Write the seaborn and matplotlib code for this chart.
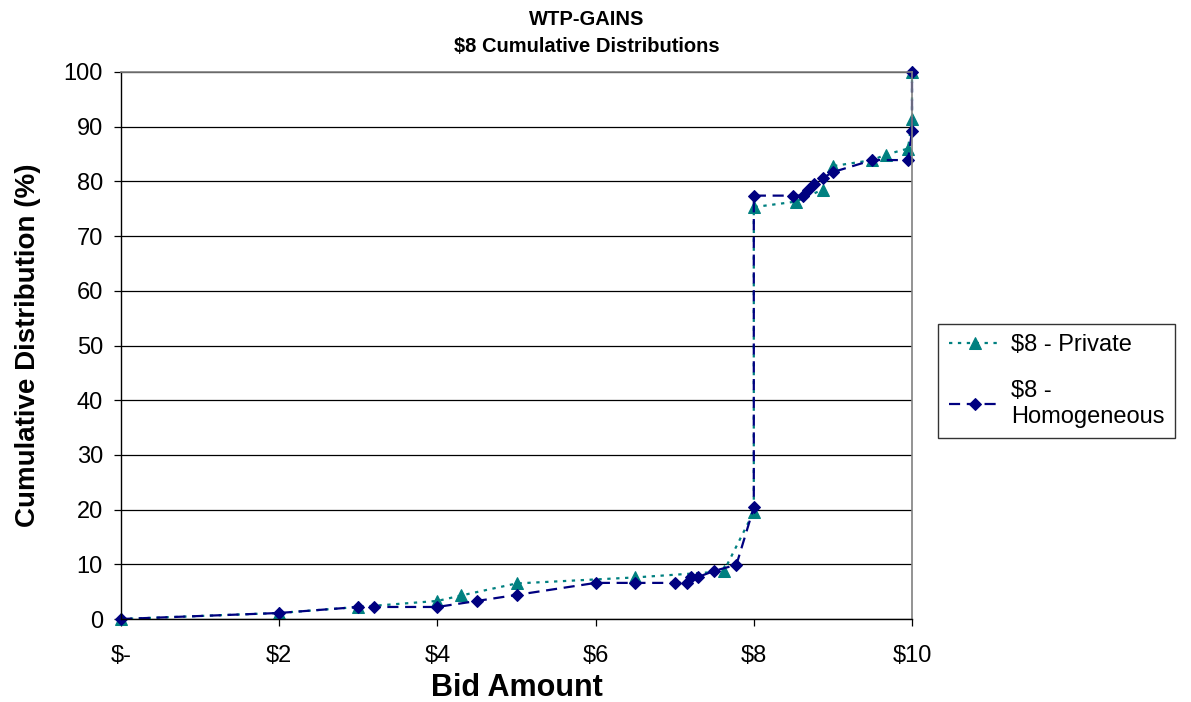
import matplotlib
matplotlib.use("Agg")
import matplotlib.pyplot as plt
import pandas as pd
import seaborn as sns

# data
private_bid = [0, 2, 3, 4, 4.3, 5, 6.5, 7.62, 8, 8, 8.53, 8.87, 9, 9.5, 9.67, 9.95, 10, 10]
private_pct = [0, 1.1, 2.2, 3.3, 4.3, 6.5, 7.6, 8.7, 19.6, 75.3, 76.3, 78.5, 82.8, 83.9, 84.9, 86.0, 91.4, 100]

homog_bid = [0, 2, 3, 3.2, 4, 4.5, 5, 6, 6.5, 7, 7.15, 7.2, 7.3, 7.5, 7.78, 8, 8,
             8.5, 8.62, 8.69, 8.76, 8.87, 9, 9.5, 9.95, 10, 10]
homog_pct = [0, 1.1, 2.2, 2.2, 2.2, 3.3, 4.4, 6.6, 6.6, 6.6, 6.6, 7.7, 7.7, 8.8, 9.9, 20.4, 77.4,
             77.4, 77.4, 78.5, 79.6, 80.6, 81.7, 83.9, 83.9, 89.2, 100]

x_ticks = [0, 2, 4, 6, 8, 10]
x_labels = ['$-', '$2', '$4', '$6', '$8', '$10']
y_ticks = list(range(0, 101, 10))

sns.set_theme(style="white")
plt.rcParams['font.family'] = ['Liberation Sans', 'DejaVu Sans']
plt.rcParams['text.color'] = 'black'
plt.rcParams['axes.labelcolor'] = 'black'
plt.rcParams['xtick.color'] = 'black'
plt.rcParams['ytick.color'] = 'black'

df_priv = pd.DataFrame({'bid': private_bid, 'pct': private_pct})
df_hom = pd.DataFrame({'bid': homog_bid, 'pct': homog_pct})

fig = plt.figure(figsize=(11.91, 7.02), dpi=100)
ax = fig.add_axes([121 / 1191, 1 - 619 / 702, (912 - 121) / 1191, (619 - 72) / 702])

ax.grid(axis='y', color='black', linewidth=0.9)
ax.set_axisbelow(True)

sns.lineplot(data=df_priv, x='bid', y='pct', ax=ax, sort=False, estimator=None,
             color='#008080', linestyle=(0, (1.5, 2.5)), linewidth=1.6,
             marker='^', markersize=8, markeredgecolor='#008080',
             label='$8 - Private', clip_on=False)
sns.lineplot(data=df_hom, x='bid', y='pct', ax=ax, sort=False, estimator=None,
             color='#000080', linestyle=(0, (5, 3)), linewidth=1.6,
             marker='D', markersize=6.5, markeredgecolor='#000080',
             label='$8 -\nHomogeneous', clip_on=False)

ax.set_xlim(0, 10)
ax.set_ylim(0, 100)
ax.set_xticks(x_ticks)
ax.set_xticklabels(x_labels, fontsize=17)
ax.set_yticks(y_ticks)
ax.set_yticklabels([str(v) for v in y_ticks], fontsize=17)
ax.tick_params(axis='x', direction='out', length=5, width=0.9, bottom=True, pad=14)
ax.tick_params(axis='y', direction='out', length=5, width=0.9, left=True, pad=8)

for s in ['left', 'bottom']:
    ax.spines[s].set_color('black')
    ax.spines[s].set_linewidth(1.0)
for s in ['right', 'top']:
    ax.spines[s].set_color('#808080')
    ax.spines[s].set_linewidth(1.2)

ax.set_xlabel('Bid Amount', fontsize=22, fontweight='bold', labelpad=4)
ax.set_ylabel('Cumulative Distribution (%)', fontsize=20, fontweight='bold', labelpad=16)

fig.suptitle('WTP-GAINS\n$8 Cumulative Distributions', x=0.493, y=0.986,
             fontsize=14.5, fontweight='bold', linespacing=1.55)

leg = ax.legend(loc='center left', bbox_to_anchor=(938 / 1191, 1 - 381 / 702),
                bbox_transform=fig.transFigure, borderaxespad=0, frameon=True,
                fancybox=False, fontsize=17, handlelength=2.2, handletextpad=0.45,
                labelspacing=1.0, borderpad=0.45)
leg.get_frame().set_edgecolor('black')
leg.get_frame().set_linewidth(1.0)
for t in leg.get_texts():
    t.set_linespacing(1.2)

fig.savefig('out.png', dpi=100)
